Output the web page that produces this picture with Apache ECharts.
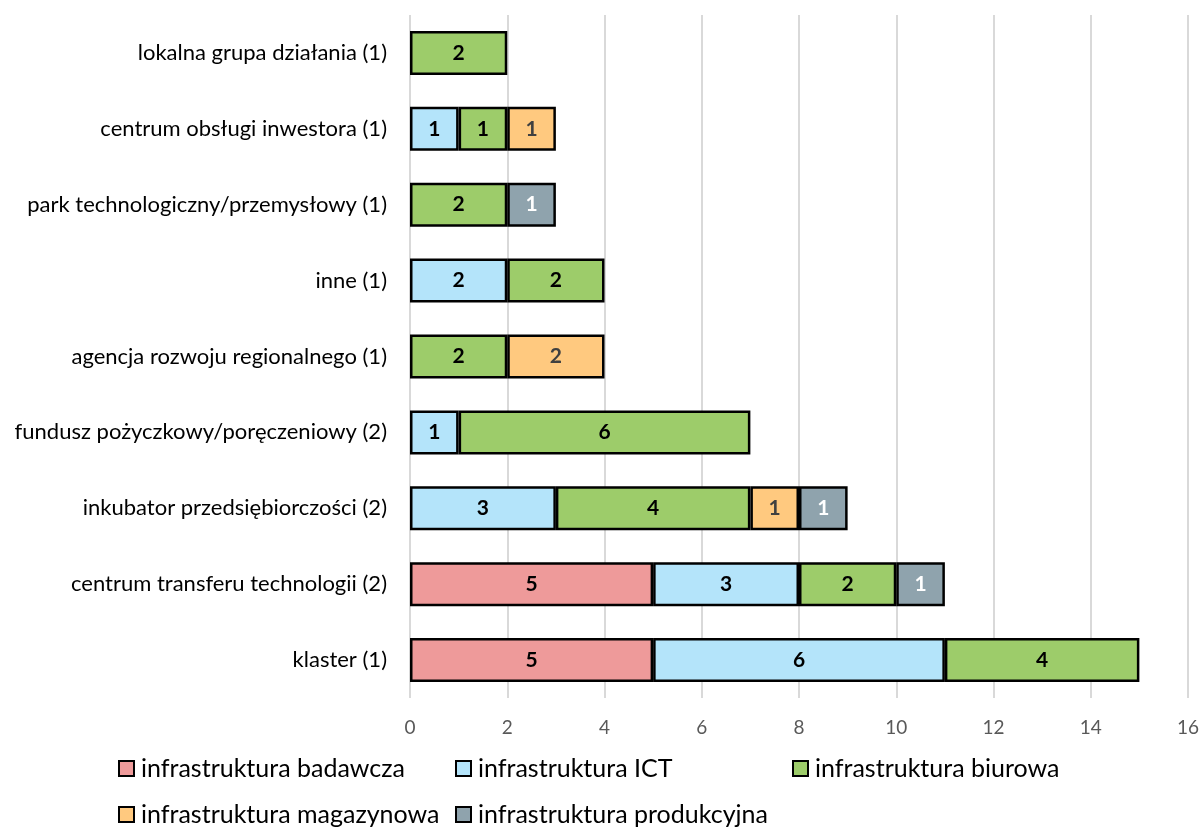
<!DOCTYPE html>
<html><head><meta charset="utf-8">
<script src="https://cdn.jsdelivr.net/npm/echarts@6/dist/echarts.min.js"></script>
<style>html,body{margin:0;padding:0;background:#fff}#c{width:1203px;height:827px}</style>
</head><body><div id="c"></div>
<script>
const categories = ["lokalna grupa działania (1)","centrum obsługi inwestora (1)","park technologiczny/przemysłowy (1)","inne (1)","agencja rozwoju regionalnego (1)","fundusz pożyczkowy/poręczeniowy (2)","inkubator przedsiębiorczości (2)","centrum transferu technologii (2)","klaster (1)"];
const seriesNames = ["infrastruktura badawcza","infrastruktura ICT","infrastruktura biurowa","infrastruktura magazynowa","infrastruktura produkcyjna"];
const badawcza = [null,null,null,null,null,null,null,5,5];
const ict = [null,1,null,2,null,1,3,3,6];
const biurowa = [2,1,2,2,2,6,4,2,4];
const magazynowa = [null,1,null,null,2,null,1,null,null];
const produkcyjna = [null,null,1,null,null,null,1,1,null];
const xTicks = {min:0,max:16,interval:2};

const colors = ["#EE9A9A","#B4E4FA","#9DCC6A","#FFC97F","#8FA3AD"];
const labelColors = ["#000","#000","#000","#404040","#fff"];
const values = [badawcza,ict,biurowa,magazynowa,produkcyjna];
const FONT = "Lato";

const chart = echarts.init(document.getElementById('c'));
const legendPos = [[113,751],[450,751],[787,751],[113,797],[450,797]];
chart.setOption({
  animation:false,
  textStyle:{fontFamily:FONT},
  grid:{left:410,right:15,top:15,bottom:129},
  xAxis:{type:'value',min:xTicks.min,max:xTicks.max,interval:xTicks.interval,
    axisLine:{show:false},axisTick:{show:false},
    axisLabel:{color:'#595959',fontSize:19,fontFamily:FONT,margin:20},
    splitLine:{lineStyle:{color:'#D9D9D9',width:2}}},
  yAxis:{type:'category',data:categories,inverse:true,
    axisLine:{show:false},axisTick:{show:false},
    axisLabel:{color:'#000',fontSize:22,fontFamily:FONT,margin:23}},
  legend: seriesNames.map((n,i)=>({data:[n],left:legendPos[i][0],top:legendPos[i][1],
    itemWidth:15,itemHeight:15,itemGap:6,icon:'rect',
    itemStyle:{borderColor:'#000',borderWidth:2},
    textStyle:{fontSize:25,color:'#000',fontFamily:FONT,padding:[0,0,0,2]}})),
  series: seriesNames.map((n,i)=>({
    name:n,type:'bar',stack:'s',data:values[i],barCategoryGap:'42%',
    itemStyle:{color:colors[i],borderColor:'#000',borderWidth:2.5},
    label:{show:true,position:'inside',fontSize:21,fontWeight:'bold',color:labelColors[i],fontFamily:FONT}
  }))
});
</script></body></html>
